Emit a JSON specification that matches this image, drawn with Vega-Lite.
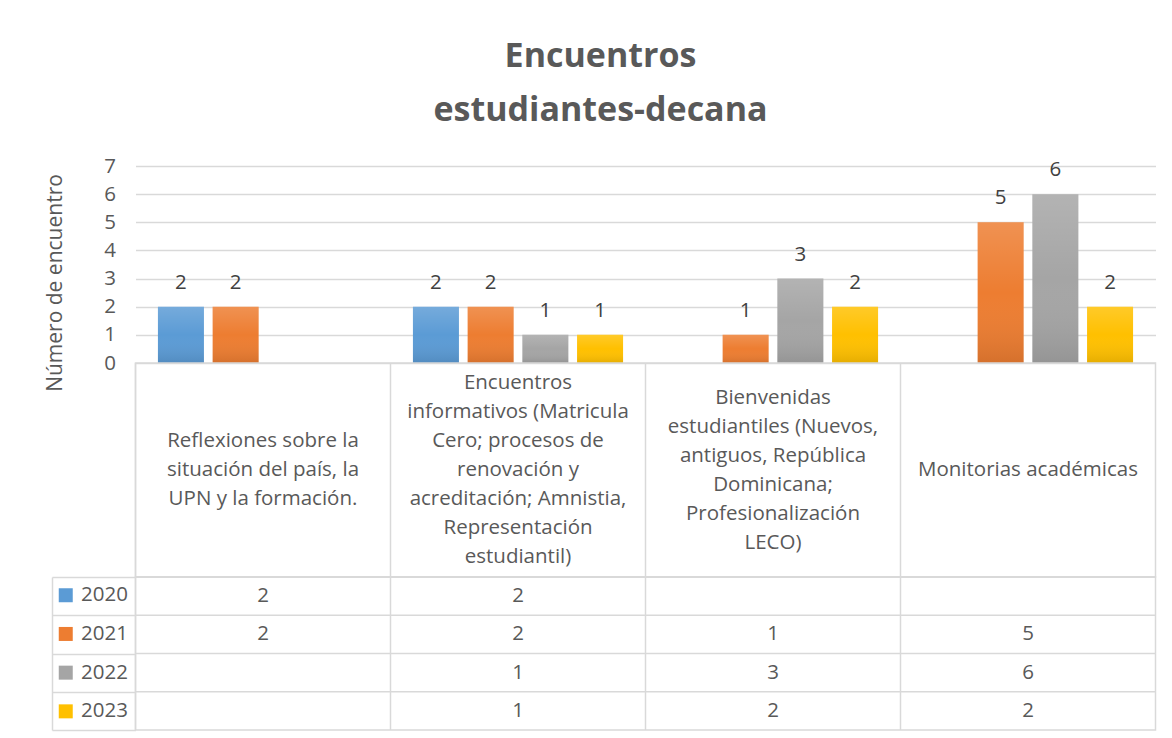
{
  "$schema": "https://vega.github.io/schema/vega-lite/v6.json",
  "background": "white",
  "padding": {"left": 43.5, "top": 40, "right": 10, "bottom": 5},
  "spacing": 0,
  "bounds": "flush",
  "datasets": {
    "registros": [
      {"categoria": "Reflexiones sobre la\nsituación del país,  la\nUPN y la formación.", "anio": "2020", "valor": 2},
      {"categoria": "Reflexiones sobre la\nsituación del país,  la\nUPN y la formación.", "anio": "2021", "valor": 2},
      {"categoria": "Encuentros\ninformativos (Matricula\nCero; procesos de\nrenovación y\nacreditación; Amnistia,\nRepresentación\nestudiantil)", "anio": "2020", "valor": 2},
      {"categoria": "Encuentros\ninformativos (Matricula\nCero; procesos de\nrenovación y\nacreditación; Amnistia,\nRepresentación\nestudiantil)", "anio": "2021", "valor": 2},
      {"categoria": "Encuentros\ninformativos (Matricula\nCero; procesos de\nrenovación y\nacreditación; Amnistia,\nRepresentación\nestudiantil)", "anio": "2022", "valor": 1},
      {"categoria": "Encuentros\ninformativos (Matricula\nCero; procesos de\nrenovación y\nacreditación; Amnistia,\nRepresentación\nestudiantil)", "anio": "2023", "valor": 1},
      {"categoria": "Bienvenidas\nestudiantiles (Nuevos,\nantiguos, República\nDominicana;\nProfesionalización\nLECO)", "anio": "2021", "valor": 1},
      {"categoria": "Bienvenidas\nestudiantiles (Nuevos,\nantiguos, República\nDominicana;\nProfesionalización\nLECO)", "anio": "2022", "valor": 3},
      {"categoria": "Bienvenidas\nestudiantiles (Nuevos,\nantiguos, República\nDominicana;\nProfesionalización\nLECO)", "anio": "2023", "valor": 2},
      {"categoria": "Monitorias académicas", "anio": "2021", "valor": 5},
      {"categoria": "Monitorias académicas", "anio": "2022", "valor": 6},
      {"categoria": "Monitorias académicas", "anio": "2023", "valor": 2}
    ],
    "categorias": [
      {"categoria": "Reflexiones sobre la\nsituación del país,  la\nUPN y la formación."},
      {"categoria": "Encuentros\ninformativos (Matricula\nCero; procesos de\nrenovación y\nacreditación; Amnistia,\nRepresentación\nestudiantil)"},
      {"categoria": "Bienvenidas\nestudiantiles (Nuevos,\nantiguos, República\nDominicana;\nProfesionalización\nLECO)"},
      {"categoria": "Monitorias académicas"}
    ],
    "anios": [{"anio": "2020"}, {"anio": "2021"}, {"anio": "2022"}, {"anio": "2023"}]
  },
  "title": {
    "text": ["Encuentros", "estudiantes-decana"],
    "font": "Open Sans",
    "fontSize": 34,
    "fontWeight": "bold",
    "color": "#595959",
    "lineHeight": 54,
    "anchor": "middle",
    "offset": 28
  },
  "vconcat": [
    {
      "width": 1020,
      "height": 197,
      "data": {"name": "registros"},
      "view": {"stroke": null},
      "encoding": {
        "x": {"field": "categoria", "type": "nominal", "sort": null, "scale": {"paddingInner": 0, "paddingOuter": 0}, "axis": null},
        "xOffset": {"field": "anio", "type": "nominal", "scale": {"paddingInner": 0.159, "paddingOuter": 0.41}},
        "y": {
          "field": "valor", "type": "quantitative",
          "scale": {"domain": [0, 7]},
          "axis": {
            "values": [0, 1, 2, 3, 4, 5, 6, 7],
            "title": "Número de encuentro",
            "grid": true, "gridColor": "#D9D9D9", "gridWidth": 1.3,
            "domain": false, "ticks": false,
            "labelPadding": 20, "labelFontSize": 20.5, "labelColor": "#595959", "labelFont": "Open Sans",
            "titleFontSize": 21, "titleFontWeight": "normal", "titleColor": "#595959", "titleFont": "Open Sans",
            "titleX": -74.5, "titleY": 116.5, "titleBaseline": "alphabetic", "titleAlign": "center", "titleAngle": 270
          }
        }
      },
      "layer": [
        {
          "mark": {"type": "bar"},
          "encoding": {
            "color": {
              "field": "anio", "type": "nominal",
              "scale": {"range": ["#5B9BD5", "#ED7D31", "#A5A5A5", "#FFC000"]},
              "legend": {
                "orient": "none", "legendX": -80, "legendY": 419,
                "title": null, "symbolType": "square", "symbolSize": 196, "symbolStrokeWidth": 0,
                "labelFontSize": 20.5, "labelColor": "#595959", "labelFont": "Open Sans",
                "rowPadding": 17.7, "labelOffset": 5, "padding": 0
              }
            }
          }
        },
        {
          "mark": {
            "type": "bar",
            "fill": {"gradient": "linear", "x1": 0, "y1": 0, "x2": 0, "y2": 1,
                     "stops": [{"offset": 0, "color": "rgba(255,255,255,0.16)"}, {"offset": 0.5, "color": "rgba(255,255,255,0)"}, {"offset": 1, "color": "rgba(0,0,0,0.10)"}]}
          },
          "encoding": {}
        },
        {
          "mark": {"type": "text", "dy": -18, "baseline": "alphabetic", "fontSize": 20.5, "font": "Open Sans", "color": "#404040"},
          "encoding": {"text": {"field": "valor", "type": "quantitative"}}
        }
      ]
    },
    {
      "width": 1020,
      "height": 214,
      "data": {"name": "categorias"},
      "view": {"stroke": "#D9D9D9", "strokeWidth": 1.5},
      "layer": [
        {
          "mark": {"type": "rule", "color": "#D9D9D9", "strokeWidth": 1.5},
          "encoding": {"x": {"field": "categoria", "type": "nominal", "sort": null, "bandPosition": 0, "scale": {"paddingInner": 0, "paddingOuter": 0}, "axis": null}}
        },
        {
          "mark": {"type": "text", "lineBreak": "\n", "fontSize": 20.5, "font": "Open Sans", "lineHeight": 29, "color": "#595959", "baseline": "middle", "align": "center",
                   "dy": {"expr": "-(length(split(datum.categoria, '\\n')) - 1) * 14.5"}},
          "encoding": {
            "x": {"field": "categoria", "type": "nominal", "sort": null, "scale": {"paddingInner": 0, "paddingOuter": 0}, "axis": null},
            "text": {"field": "categoria", "type": "nominal"}
          }
        }
      ]
    },
    {
      "width": 1020,
      "height": 153,
      "view": {"stroke": "#D9D9D9", "strokeWidth": 1.5},
      "layer": [
        {
          "data": {"name": "categorias"},
          "mark": {"type": "rule", "color": "#D9D9D9", "strokeWidth": 1.5},
          "encoding": {"x": {"field": "categoria", "type": "nominal", "sort": null, "bandPosition": 0, "scale": {"paddingInner": 0, "paddingOuter": 0}, "axis": null}}
        },
        {
          "data": {"name": "anios"},
          "mark": {"type": "rule", "color": "#D9D9D9", "strokeWidth": 1.5},
          "encoding": {
            "y": {
              "field": "anio", "type": "nominal", "bandPosition": 0,
              "scale": {"paddingInner": 0, "paddingOuter": 0},
              "axis": {"orient": "left", "offset": 83.5, "tickSize": -83.5, "tickBand": "extent", "labels": false, "title": null, "grid": false,
                       "domainColor": "#D9D9D9", "domainWidth": 1.5, "tickColor": "#D9D9D9", "tickWidth": 1.5}
            }
          }
        },
        {
          "data": {"name": "registros"},
          "mark": {"type": "text", "fontSize": 20.5, "font": "Open Sans", "color": "#595959", "baseline": "middle"},
          "encoding": {
            "x": {"field": "categoria", "type": "nominal", "sort": null, "scale": {"paddingInner": 0, "paddingOuter": 0}, "axis": null},
            "y": {
              "field": "anio", "type": "nominal",
              "scale": {"paddingInner": 0, "paddingOuter": 0},
              "axis": {"orient": "left", "offset": 83.5, "tickSize": -83.5, "tickBand": "extent", "labels": false, "title": null, "grid": false,
                       "domainColor": "#D9D9D9", "domainWidth": 1.5, "tickColor": "#D9D9D9", "tickWidth": 1.5}
            },
            "text": {"field": "valor", "type": "quantitative"}
          }
        }
      ]
    }
  ],
  "config": {
    "font": "Open Sans"
  }
}
